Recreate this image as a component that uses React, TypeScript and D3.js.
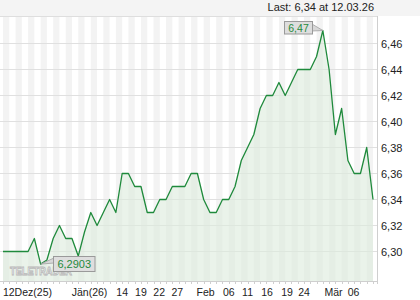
import React from "react";
import * as d3 from "d3";

const values: number[] = [
  6.30, 6.30, 6.30, 6.30, 6.30, 6.31, 6.2903, 6.2935, 6.31, 6.32,
  6.31, 6.31, 6.2965, 6.315, 6.33, 6.32, 6.33, 6.34, 6.33, 6.36,
  6.36, 6.35, 6.35, 6.33, 6.33, 6.34, 6.34, 6.35, 6.35, 6.35,
  6.36, 6.36, 6.34, 6.33, 6.33, 6.34, 6.34, 6.35, 6.37, 6.38,
  6.39, 6.41, 6.42, 6.42, 6.43, 6.42, 6.43, 6.44, 6.44, 6.44,
  6.45, 6.47, 6.44, 6.39, 6.41, 6.37, 6.36, 6.36, 6.38, 6.34,
];

const xTickLabels: string[] = ["12Dez(25)", "Jän(26)", "14", "19", "22", "27", "Feb", "06", "11", "16", "19", "24", "Mär", "06"];
const xTickIndex: number[] = [3.9, 13.8, 19, 22, 24.9, 27.8, 32.3, 36, 39, 42.1, 45.3, 48, 52.7, 55.9];
const yTicks: number[] = [6.30, 6.32, 6.34, 6.36, 6.38, 6.40, 6.42, 6.44, 6.46];

const lastText = "Last: 6,34 at 12.03.26";
const maxLabel = "6,47";
const minLabel = "6,2903";
const watermark = "TELETRADER";

const fmt = (v: number) => v.toFixed(2).replace(".", ",");

export default function App() {
  const W = 420, H = 300;
  const plotL = 0, plotR = 377, plotT = 16, plotB = 281;
  const x = d3.scaleLinear().domain([0, values.length - 1]).range([3, 373]);
  const y = d3.scaleLinear().domain([6.30, 6.46]).range([251.5, 43.5]);

  const line = d3.line<number>().x((_, i) => x(i)).y((d) => y(d));
  const area = d3.area<number>().x((_, i) => x(i)).y0(plotB).y1((d) => y(d));

  const maxI = values.indexOf(d3.max(values) as number);
  const minI = values.indexOf(d3.min(values) as number);
  const mx = x(maxI), my = y(values[maxI]);
  const nx = x(minI), ny = y(values[minI]);

  const stripes: number[] = [];
  for (let i = 0; i < values.length - 1; i += 2) stripes.push(i);

  const font = "'Liberation Sans', Arial, sans-serif";

  return (
    <svg width={W} height={H} style={{ position: "fixed", left: 0, top: 0, background: "#fff" }} fontFamily={font}>
      <defs>
        <clipPath id="plotclip">
          <rect x={plotL} y={plotT} width={plotR - plotL} height={plotB - plotT} />
        </clipPath>
      </defs>
      {/* header */}
      <rect x={0} y={0} width={W} height={plotT} fill="#f4f4f4" />
      <text x={374} y={11} fontSize={11} textAnchor="end" fill="#222">{lastText}</text>
      {/* stripes */}
      <g clipPath="url(#plotclip)">
        {stripes.map((i) => (
          <rect key={i} x={x(i)} y={plotT} width={x(i + 1) - x(i)} height={plotB - plotT} fill="#f3f3f3" />
        ))}
      </g>
      {/* gridlines */}
      {yTicks.map((t) => (
        <line key={t} x1={plotL} x2={plotR} y1={y(t)} y2={y(t)} stroke="#e0e0e0" strokeWidth={1} />
      ))}
      <line x1={0} x2={plotR} y1={plotT + 0.5} y2={plotT + 0.5} stroke="#dedede" />
      {/* area + line */}
      <g clipPath="url(#plotclip)">
        <path d={area(values) || ""} fill="#dcebdc" fillOpacity={0.6} />
        <path d={line(values) || ""} fill="none" stroke="#1f8a3c" strokeWidth={1.3} strokeLinejoin="round" />
      </g>
      {/* watermark */}
      <text x={10} y={275} fontSize={11.5} fontWeight="bold" fill="#ffffff" stroke="#b8b8b8" strokeWidth={0.9} textLength={62} lengthAdjust="spacingAndGlyphs">{watermark}</text>
      {/* axes */}
      <line x1={plotR + 0.5} x2={plotR + 0.5} y1={plotT} y2={plotB + 3} stroke="#cfcfcf" />
      <line x1={0} x2={plotR + 1} y1={plotB + 0.5} y2={plotB + 0.5} stroke="#cfcfcf" />
      {values.map((_, i) => (
        <line key={i} x1={Math.round(x(i)) + 0.5} x2={Math.round(x(i)) + 0.5} y1={plotB} y2={plotB + 3} stroke="#cfcfcf" />
      ))}
      {yTicks.map((t) => (
        <text key={t} x={381} y={y(t) + 4} fontSize={11} fill="#222">{fmt(t)}</text>
      ))}
      {xTickLabels.map((l, k) => (
        <text key={k} x={x(xTickIndex[k])} y={296} fontSize={10.5} textAnchor="middle" fill="#222">{l}</text>
      ))}
      {/* max label */}
      <polygon points={`${312},${24} ${mx},${my} ${312},${31}`} fill="#d8d8d8" stroke="#a0a0a0" strokeWidth={0.8} />
      <rect x={284.5} y={21.5} width={28} height={12.5} fill="#dedede" stroke="#9a9a9a" />
      <text x={298.5} y={32} fontSize={10.5} textAnchor="middle" fill="#1f8a3c">{maxLabel}</text>
      {/* min label */}
      <polygon points={`${nx},${ny} ${54},${258} ${54},${263}`} fill="#d8d8d8" stroke="#a0a0a0" strokeWidth={0.8} />
      <rect x={53.5} y={256.5} width={41.5} height={15} fill="#dedede" stroke="#9a9a9a" />
      <text x={74.25} y={268} fontSize={11} textAnchor="middle" fill="#1f8a3c">{minLabel}</text>
    </svg>
  );
}
